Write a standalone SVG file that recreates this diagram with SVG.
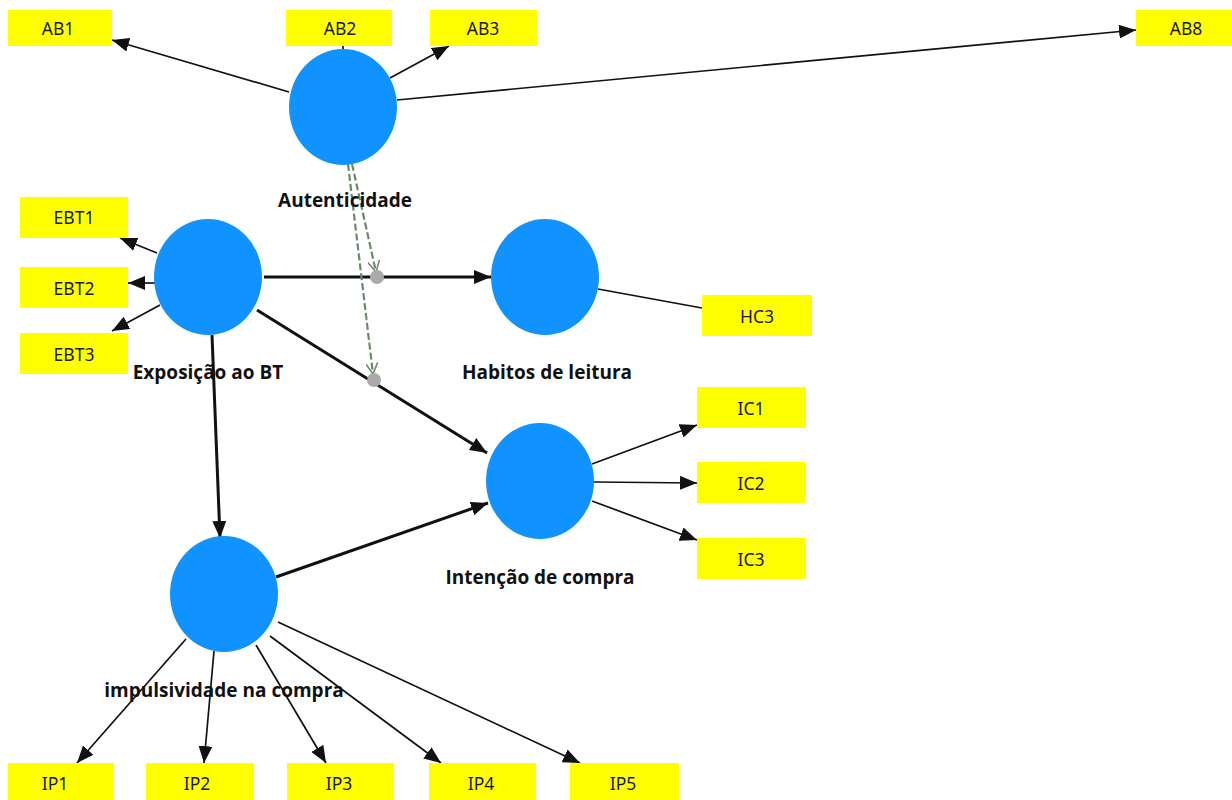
<svg xmlns="http://www.w3.org/2000/svg" width="1232" height="800" viewBox="0 0 1232 800">
<style>
.box{fill:#ffff00;}
.bt{font-family:"Noto Sans","Open Sans",sans-serif;font-size:17.5px;fill:#1a1a1a;text-anchor:middle;dominant-baseline:central;}
.lv{fill:#1193ff;}
.lt{font-family:"Open Sans","Noto Sans",sans-serif;font-size:19px;font-weight:bold;fill:#111;text-anchor:middle;}
.thin{stroke:#111;stroke-width:1.7;fill:none;}
.thick{stroke:#111;stroke-width:3;fill:none;}
.dash{stroke:#6b8a6b;stroke-width:2.2;stroke-dasharray:7,3;fill:none;}
.dot{fill:#aaaaaa;}
</style>
<defs>
<marker id="arr" viewBox="0 0 17 14" refX="17" refY="7" markerWidth="17" markerHeight="14" markerUnits="userSpaceOnUse" orient="auto"><path d="M0,0 L17,7 L0,14 z" fill="#111"/></marker>
<marker id="open" viewBox="0 0 12 12" refX="11" refY="6" markerWidth="12" markerHeight="12" markerUnits="userSpaceOnUse" orient="auto"><path d="M0,0 L11,6 L0,12" fill="none" stroke="#6b8a6b" stroke-width="1.5"/></marker>
</defs>
<rect width="1232" height="800" fill="#ffffff"/>
<g id="connectors">
<line class="thin" x1="289" y1="92" x2="112" y2="40" marker-end="url(#arr)"/>
<line class="thin" x1="343" y1="50" x2="343" y2="46"/>
<line class="thin" x1="390" y1="78" x2="449" y2="46" marker-end="url(#arr)"/>
<line class="thin" x1="397" y1="100" x2="1136" y2="30" marker-end="url(#arr)"/>
<line class="thin" x1="157" y1="253" x2="120" y2="238" marker-end="url(#arr)"/>
<line class="thin" x1="156" y1="283" x2="128" y2="283" marker-end="url(#arr)"/>
<line class="thin" x1="160" y1="305" x2="112" y2="331" marker-end="url(#arr)"/>
<line class="thick" x1="264" y1="277" x2="491" y2="277" marker-end="url(#arr)"/>
<line class="thick" x1="257" y1="310" x2="487" y2="453" marker-end="url(#arr)"/>
<line class="thick" x1="212" y1="335" x2="220" y2="538" marker-end="url(#arr)"/>
<line class="thick" x1="276" y1="577" x2="488" y2="503" marker-end="url(#arr)"/>
<line class="thin" x1="598" y1="289" x2="702" y2="308"/>
<line class="thin" x1="592" y1="464" x2="697" y2="425" marker-end="url(#arr)"/>
<line class="thin" x1="594" y1="482" x2="697" y2="483" marker-end="url(#arr)"/>
<line class="thin" x1="592" y1="501" x2="697" y2="540" marker-end="url(#arr)"/>
<line class="thin" x1="186" y1="639" x2="77" y2="763" marker-end="url(#arr)"/>
<line class="thin" x1="214" y1="651" x2="204" y2="763" marker-end="url(#arr)"/>
<line class="thin" x1="256" y1="645" x2="326" y2="763" marker-end="url(#arr)"/>
<line class="thin" x1="270" y1="636" x2="441" y2="763" marker-end="url(#arr)"/>
<line class="thin" x1="278" y1="622" x2="580" y2="763" marker-end="url(#arr)"/>
<line class="dash" x1="352" y1="164" x2="376" y2="272" marker-end="url(#open)"/>
<line class="dash" x1="348" y1="164" x2="373" y2="374" marker-end="url(#open)"/>
<circle class="dot" cx="377" cy="277" r="7"/>
<circle class="dot" cx="374" cy="380" r="7"/>
</g>
<g id="AB1"><rect class="box" x="8" y="10" width="104" height="36"/><text class="bt" x="58" y="28">AB1</text></g>
<g id="AB2"><rect class="box" x="286" y="10" width="106" height="36"/><text class="bt" x="340" y="28">AB2</text></g>
<g id="AB3"><rect class="box" x="430" y="10" width="107" height="36"/><text class="bt" x="483" y="28">AB3</text></g>
<g id="AB8"><rect class="box" x="1136" y="10" width="96" height="36"/><text class="bt" x="1186" y="28">AB8</text></g>
<g id="EBT1"><rect class="box" x="20" y="197" width="108" height="41"/><text class="bt" x="74" y="217">EBT1</text></g>
<g id="EBT2"><rect class="box" x="20" y="267" width="108" height="41"/><text class="bt" x="74" y="288">EBT2</text></g>
<g id="EBT3"><rect class="box" x="20" y="333" width="108" height="41"/><text class="bt" x="74" y="354">EBT3</text></g>
<g id="HC3"><rect class="box" x="702" y="295" width="110" height="41"/><text class="bt" x="757" y="316">HC3</text></g>
<g id="IC1"><rect class="box" x="697" y="387" width="109" height="41"/><text class="bt" x="751" y="408">IC1</text></g>
<g id="IC2"><rect class="box" x="697" y="462" width="109" height="41"/><text class="bt" x="751" y="483">IC2</text></g>
<g id="IC3"><rect class="box" x="697" y="538" width="109" height="41"/><text class="bt" x="751" y="559">IC3</text></g>
<g id="IP1"><rect class="box" x="8" y="763" width="106" height="37"/><text class="bt" x="55" y="783">IP1</text></g>
<g id="IP2"><rect class="box" x="146" y="763" width="108" height="37"/><text class="bt" x="197" y="783">IP2</text></g>
<g id="IP3"><rect class="box" x="287" y="763" width="107" height="37"/><text class="bt" x="339" y="783">IP3</text></g>
<g id="IP4"><rect class="box" x="429" y="763" width="107" height="37"/><text class="bt" x="481" y="783">IP4</text></g>
<g id="IP5"><rect class="box" x="570" y="763" width="109" height="37"/><text class="bt" x="623" y="783">IP5</text></g>
<g id="Autenticidade"><ellipse class="lv" cx="343" cy="107" rx="54" ry="58"/><text class="lt" x="345" y="207">Autenticidade</text></g>
<g id="Exposicao"><ellipse class="lv" cx="208" cy="277" rx="54" ry="58"/><text class="lt" x="208" y="379">Exposição ao BT</text></g>
<g id="Habitos"><ellipse class="lv" cx="545" cy="277" rx="54" ry="58"/><text class="lt" x="547" y="379">Habitos de leitura</text></g>
<g id="Intencao"><ellipse class="lv" cx="540" cy="481" rx="54" ry="58"/><text class="lt" x="540" y="584">Intenção de compra</text></g>
<g id="Impulsividade"><ellipse class="lv" cx="224" cy="594" rx="54" ry="58"/><text class="lt" x="224" y="697">impulsividade na compra</text></g>
</svg>
